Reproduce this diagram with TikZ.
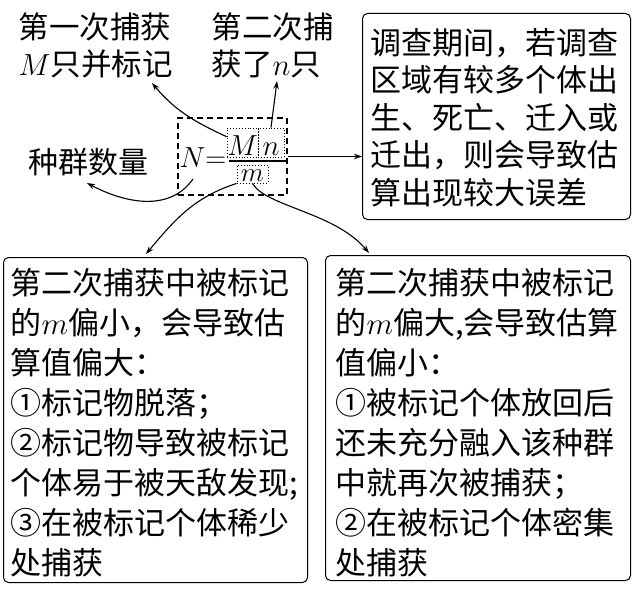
\RequirePackage{fix-cm}
\documentclass[tikz,border=0pt]{standalone}
\usepackage[no-math]{fontspec}
\setmainfont{Noto Sans CJK SC}
\usetikzlibrary{arrows.meta}
\begin{document}
\begin{tikzpicture}[x=1pt,y=1pt,
  box/.style={draw, line width=1pt, rounded corners=5pt, inner sep=0pt, anchor=north west},
  txt/.style={inner sep=0pt, anchor=north west, align=left, font=\fontsize{31}{40}\selectfont},
  dotbox/.style={draw, dotted, line width=0.9pt, inner sep=0pt},
  mathf/.style={inner sep=0pt, font=\fontsize{29}{29}\selectfont},
  arr/.style={line width=1.1pt, -{Stealth[length=8pt,width=5.5pt]}}]
\useasboundingbox (0,0) rectangle (636,-588);
\fill[white] (0,0) rectangle (636,-588);

% boxes
\node[box, minimum width=268pt, minimum height=206pt] (trbox) at (362,-13) {};
\node[box, minimum width=304pt, minimum height=325pt] (lbox) at (3,-257) {};
\node[box, minimum width=305pt, minimum height=325pt] (rbox) at (325,-255) {};

% box texts
\node[txt, font=\fontsize{31}{37.5}\selectfont] (trtext) at (370.5,-28)
  {调查期间，若调查\\区域有较多个体出\\生、死亡、迁入或\\迁出，则会导致估\\算出现较大误差};
\node[txt] (ltext) at (10.5,-268)
  {第二次捕获中被标记\\的$m$偏小，会导致估\\算值偏大：\\①标记物脱落；\\②标记物导致被标记\\个体易于被天敌发现;\\③在被标记个体稀少\\处捕获};
\node[txt] (rtext) at (335.5,-268)
  {第二次捕获中被标记\\的$m$偏大,会导致估算\\值偏小：\\①被标记个体放回后\\还未充分融入该种群\\中就再次被捕获；\\②在被标记个体密集\\处捕获};

% free texts
\node[txt, font=\fontsize{30.5}{37}\selectfont] (t1) at (18.5,-13) {第一次捕获\\$M$只并标记};
\node[txt, font=\fontsize{30.5}{37}\selectfont] (t2) at (211.5,-13) {第二次捕\\获了$n$只};
\node[txt, font=\fontsize{30}{37}\selectfont] (t3) at (28.5,-148) {种群数量};

% formula
\node[draw, dash pattern=on 6pt off 4pt, line width=1.1pt, minimum width=109pt, minimum height=77pt, inner sep=0pt] (eq) at (232.5,-156.5) {};
\node[mathf] (Neq) at (203,-158) {$N\mathord{=}$};
\node[dotbox, mathf, minimum width=31pt, minimum height=29pt, text height=25pt, text depth=0pt] (M) at (242.5,-142.5) {$M$};
\node[dotbox, mathf, minimum width=26pt, minimum height=29pt, text height=25pt, text depth=0pt] (n) at (271,-142.5) {$n$};
\node[dotbox, font=\fontsize{27}{27}\selectfont, minimum width=31pt, minimum height=18pt, text height=15pt, text depth=0pt] (m) at (252.5,-174) {$m$};
\draw[line width=1.3pt] (229,-161) -- (287,-161);

% arrows
\coordinate (a1) at (152,-83);
\draw[arr] (M.160) to[out=155,in=-50] (a1);
\coordinate (a2) at (277,-81);
\draw[arr] (n.north) -- (a2);
\coordinate (s3) at (193,-179);
\coordinate (a3) at (87,-183);
\draw[arr] (s3) to[out=-125,in=-28] (a3);
\draw[arr] (eq.east) -- (eq.east -| trbox.west);
\coordinate (a5) at (146,-254);
\draw[arr] (m.south west) to[out=198,in=50] (a5);
\coordinate (a6) at (369,-253);
\draw[arr] (m.south) to[out=-60,in=130,out looseness=0.5] (a6);
\end{tikzpicture}
\end{document}
